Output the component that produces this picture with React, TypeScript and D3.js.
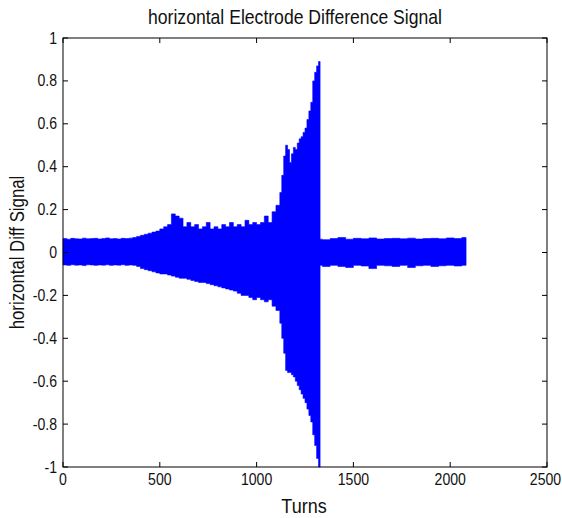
import React from "react";
import * as d3 from "d3";

const turns = [
  0, 20, 40, 60, 80, 100, 120, 140, 160, 180, 200, 220, 240, 260, 280, 300, 320, 340,
  360, 380, 400, 420, 440, 460, 480, 500, 520, 540,
  560, 580, 600, 620, 640, 660, 680, 700, 720, 740, 760, 780, 800, 820, 840, 860, 880, 900,
  920, 940, 960, 980, 1000, 1020, 1040, 1060, 1080, 1100, 1120,
  1130, 1140, 1150, 1160, 1170, 1180, 1190, 1200, 1210, 1220, 1230, 1240, 1250, 1260, 1270,
  1280, 1290, 1300, 1310, 1320,
  1328, 1340,
  1380, 1420, 1460, 1500, 1540, 1580, 1620, 1660, 1700, 1740, 1780, 1820, 1860, 1900, 1940,
  1980, 2020, 2060, 2082,
];

const upper = [
  0.065, 0.062, 0.066, 0.064, 0.063, 0.067, 0.064, 0.065, 0.066, 0.063, 0.065, 0.068, 0.064, 0.065, 0.063, 0.066, 0.065, 0.067,
  0.07, 0.075, 0.08, 0.085, 0.09, 0.095, 0.1, 0.11, 0.12, 0.13,
  0.18, 0.17, 0.16, 0.12, 0.14, 0.12, 0.13, 0.11, 0.12, 0.14, 0.11, 0.12, 0.11, 0.13, 0.12, 0.14, 0.12, 0.13,
  0.12, 0.15, 0.13, 0.14, 0.13, 0.14, 0.17, 0.14, 0.19, 0.22, 0.28,
  0.36, 0.45, 0.5, 0.48, 0.42, 0.46, 0.49, 0.48, 0.51, 0.53, 0.54, 0.56, 0.58, 0.62, 0.66,
  0.7, 0.8, 0.84, 0.87, 0.89,
  0.062, 0.06,
  0.065, 0.07, 0.062, 0.066, 0.064, 0.068, 0.063, 0.065, 0.066, 0.064, 0.067, 0.063, 0.065, 0.066, 0.064,
  0.068, 0.065, 0.07, 0.065,
];

const lower = [
  -0.058, -0.06, -0.057, -0.059, -0.058, -0.061, -0.057, -0.058, -0.06, -0.058, -0.059, -0.057, -0.06, -0.058, -0.059, -0.057, -0.06, -0.058,
  -0.06, -0.065, -0.075, -0.08, -0.085, -0.09, -0.095, -0.1, -0.1, -0.105,
  -0.11, -0.115, -0.12, -0.12, -0.125, -0.13, -0.135, -0.14, -0.14, -0.145, -0.15, -0.155, -0.16, -0.165, -0.17, -0.175, -0.18, -0.19,
  -0.2, -0.2, -0.21, -0.22, -0.21, -0.22, -0.23, -0.22, -0.25, -0.27, -0.33,
  -0.4, -0.47, -0.55, -0.56, -0.56, -0.57, -0.58, -0.6, -0.62, -0.64, -0.66, -0.68, -0.7, -0.73, -0.76,
  -0.79, -0.85, -0.9, -0.96, -1.0,
  -0.06, -0.065,
  -0.06, -0.065, -0.07, -0.06, -0.063, -0.075, -0.06, -0.062, -0.065, -0.06, -0.07, -0.062, -0.06, -0.065, -0.062,
  -0.06, -0.063, -0.06, -0.06,
];

const xTicks = [0, 500, 1000, 1500, 2000, 2500];
const yTicks = [-1, -0.8, -0.6, -0.4, -0.2, 0, 0.2, 0.4, 0.6, 0.8, 1];

const title = "horizontal Electrode Difference Signal";
const xLabel = "Turns";
const yLabel = "horizontal Diff Signal";

const W = 562;
const H = 518;
const L = 63, R = 547, T = 38, B = 467;
const FONT = "'Liberation Sans', Arial, sans-serif";

export default function App() {
  const x = d3.scaleLinear().domain([0, 2500]).range([L, R]);
  const y = d3.scaleLinear().domain([-1, 1]).range([B, T]);
  const pts = turns.map((t, i) => ({ t, u: upper[i], l: lower[i] }));
  const area = d3
    .area<{ t: number; u: number; l: number }>()
    .x((d) => x(d.t))
    .y0((d) => y(d.l))
    .y1((d) => y(d.u))
    .curve(d3.curveStepAfter);
  const tl = 5;
  const fmt = (v: number) => (v === 0 ? "0" : String(Math.round(v * 10) / 10));
  return (
    <svg width={W} height={H} style={{ position: "absolute", left: 0, top: 0, background: "#fff" }}>
      <rect x={0} y={0} width={W} height={H} fill="#fff" />
      <path d={area(pts) || ""} fill="#0000ff" stroke="#0000ff" strokeWidth={0.6} />
      <rect x={L} y={T} width={R - L} height={B - T} fill="none" stroke="#000" strokeWidth={1} />
      {xTicks.map((v) => (
        <g key={"x" + v}>
          <line x1={x(v)} x2={x(v)} y1={B} y2={B - tl} stroke="#000" />
          <line x1={x(v)} x2={x(v)} y1={T} y2={T + tl} stroke="#000" />
          <text
            transform={`translate(${v === 2500 ? x(v) - 1.5 : x(v)},485) scale(0.88,1)`}
            textAnchor="middle"
            fontFamily={FONT}
            fontSize={16}
            fill="#111"
          >
            {v}
          </text>
        </g>
      ))}
      {yTicks.map((v) => (
        <g key={"y" + v}>
          <line x1={L} x2={L + tl} y1={y(v)} y2={y(v)} stroke="#000" />
          <line x1={R} x2={R - tl} y1={y(v)} y2={y(v)} stroke="#000" />
          <text
            transform={`translate(57,${y(v) + 5.5}) scale(0.88,1)`}
            textAnchor="end"
            fontFamily={FONT}
            fontSize={16}
            fill="#111"
          >
            {fmt(v)}
          </text>
        </g>
      ))}
      <text
        transform={`translate(295,24) scale(0.88,1)`}
        textAnchor="middle"
        fontFamily={FONT}
        fontSize={20}
        fill="#111"
      >
        {title}
      </text>
      <text
        transform={`translate(304,513) scale(0.9,1)`}
        textAnchor="middle"
        fontFamily={FONT}
        fontSize={20}
        fill="#111"
      >
        {xLabel}
      </text>
      <text
        transform={`translate(24,${(T + B) / 2}) rotate(-90) scale(0.84,1)`}
        textAnchor="middle"
        fontFamily={FONT}
        fontSize={20}
        fill="#111"
      >
        {yLabel}
      </text>
    </svg>
  );
}
